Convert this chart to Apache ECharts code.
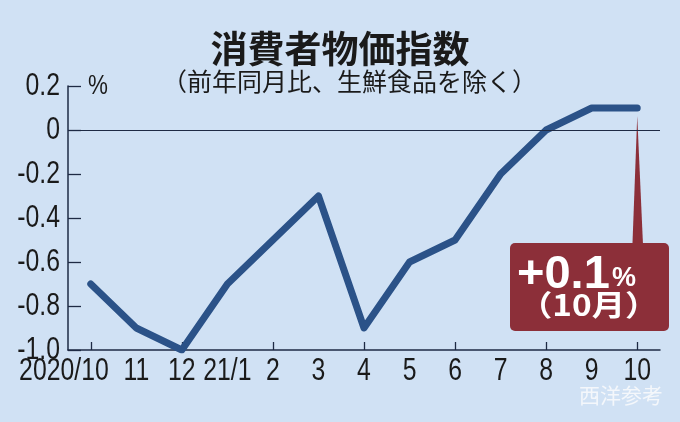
<!DOCTYPE html>
<html><head><meta charset="utf-8">
<script src="https://cdn.jsdelivr.net/npm/echarts@6/dist/echarts.min.js"></script>
<style>html,body{margin:0;padding:0;background:#d0e1f4;}#c{width:680px;height:422px;}</style>
</head><body><div id="c"></div>
<script>
const categories = ['2020/10','11','12','21/1','2','3','4','5','6','7','8','9','10'];
const values = [-0.7,-0.9,-1.0,-0.7,-0.5,-0.3,-0.9,-0.6,-0.5,-0.2,0,0.1,0.1];
const yTickValues = [0.2, 0, -0.2, -0.4, -0.6, -0.8, -1.0];
const yTickLabels = ['0.2','0','-0.2','-0.4','-0.6','-0.8','-1.0'];
const title = '消費者物価指数';
const subtitle = '（前年同月比、生鮮食品を除く）';
const unit = '%';
const calloutValue = '+0.1';
const calloutMonth = '（10月）';
const watermark = '西洋参考';

const NUM = '"Liberation Sans",Arial,sans-serif';
const CJK = '"Noto Sans CJK JP",sans-serif';
const SX = 0.8;
const chart = echarts.init(document.getElementById('c'));
const axisColor = '#1e2a44';
chart.setOption({
  backgroundColor: '#d0e1f4',
  animation: false,
  grid: {left: 68, right: 20, top: 86, bottom: 72},
  xAxis: {
    type: 'category', data: categories, boundaryGap: true,
    axisLine: {onZero: false, lineStyle: {color: axisColor, width: 1.5}},
    axisTick: {show: true, inside: true, alignWithLabel: true, length: 8, lineStyle: {color: axisColor, width: 1.3}},
    axisLabel: {show: false}
  },
  yAxis: {
    type: 'value', min: -1, max: 0.2, interval: 0.2,
    axisLine: {show: true, onZero: false, lineStyle: {color: axisColor, width: 1.5}},
    axisTick: {show: true, inside: true, length: 13, lineStyle: {color: axisColor, width: 1.3}},
    splitLine: {show: false},
    axisLabel: {show: false}
  },
  series: [{
    type: 'line', data: values, symbol: 'none',
    lineStyle: {color: '#2b5288', width: 7, cap: 'round', join: 'round'},
    markLine: {silent: true, symbol: 'none', label: {show: false},
      lineStyle: {color: axisColor, width: 1, type: 'solid'},
      data: [{yAxis: 0}]},
    z: 3
  }]
});

const g = [];
const baseY = chart.convertToPixel({yAxisIndex: 0}, -1);
categories.forEach((c, i) => {
  const x = chart.convertToPixel({xAxisIndex: 0}, i);
  const first = i === 0;
  g.push({type: 'text', x: first ? x + 18 : x, y: baseY + 21, scaleX: SX,
    style: {text: c, font: '31px ' + NUM, fill: '#1a1a1a', align: first ? 'right' : 'center', verticalAlign: 'middle'}});
});
yTickValues.forEach((v, i) => {
  const y = chart.convertToPixel({yAxisIndex: 0}, v);
  g.push({type: 'text', x: 60, y: y, scaleX: SX,
    style: {text: yTickLabels[i], font: '31px ' + NUM, fill: '#1a1a1a', align: 'right', verticalAlign: 'middle'}});
});
const last = chart.convertToPixel({seriesIndex: 0}, [values.length - 1, values[values.length - 1]]);
g.push(
  {type: 'text', left: 'center', top: 30, style: {text: title, font: 'bold 37px ' + CJK, fill: '#1a1a1a'}},
  {type: 'text', x: 162, y: 69, style: {text: subtitle, font: '25px ' + CJK, fill: '#1a1a1a'}},
  {type: 'text', x: 88, y: 86, scaleX: SX, style: {text: unit, font: '28px ' + NUM, fill: '#1a1a1a', verticalAlign: 'middle'}},
  {type: 'polygon', z: 1, shape: {points: [[last[0], last[1] + 8], [last[0] - 5, 250], [last[0] + 6, 250]]}, style: {fill: '#8c2f39'}},
  {type: 'rect', z: 1, shape: {x: 510, y: 243, width: 159, height: 88, r: 5}, style: {fill: '#8c2f39'}},
  {type: 'text', z: 2, x: 517, y: 252, style: {text: calloutValue, font: 'bold 47px "Liberation Sans",sans-serif', fill: '#ffffff'}},
  {type: 'text', z: 2, x: 612, y: 265, style: {text: '%', font: 'bold 27px "Liberation Sans",sans-serif', fill: '#ffffff'}},
  {type: 'text', z: 2, x: 519, y: 290, scaleX: 1.15, style: {text: calloutMonth, font: 'bold 29px ' + CJK, fill: '#ffffff'}},
  {type: 'text', z: 2, x: 579, y: 385, style: {text: watermark, font: '21px ' + CJK, fill: '#f4f7fb'}}
);
chart.setOption({graphic: g});
</script></body></html>
